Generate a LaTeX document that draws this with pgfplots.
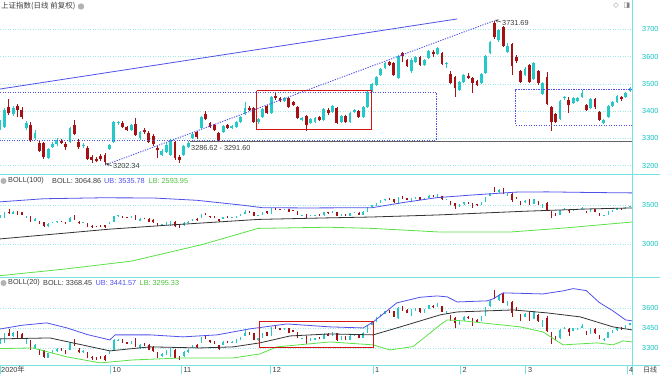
\documentclass[border=0pt]{standalone}
\usepackage{pgfplots}
\pgfplotsset{compat=1.18}
\usepackage{pgfplotstable}
\usepackage{fontspec}
\setmainfont{Liberation Sans}
\newfontfamily\cjk{Noto Sans CJK SC}
\newfontfamily\dejavu{DejaVu Sans}
\definecolor{upc}{RGB}{38,200,200}
\definecolor{dnc}{RGB}{165,18,22}
\definecolor{axc}{RGB}{120,225,225}
\definecolor{labc}{RGB}{20,195,195}
\definecolor{gridc}{RGB}{160,232,232}
\definecolor{blu}{RGB}{80,80,235}
\definecolor{grn}{RGB}{90,225,70}
\definecolor{txt}{RGB}{60,60,60}
\definecolor{rbox}{RGB}{215,20,20}
\definecolor{hline}{RGB}{100,100,100}
\newcommand\fs{\fontsize{7.3}{8.5}\selectfont}

\pgfplotstableread{
i o h l c
0 3338 3367 3331 3360
1 3342 3411 3338 3404
2 3415 3445 3386 3393
3 3389 3419 3382 3411
4 3419 3426 3378 3404
5 3404 3415 3371 3378
6 3338 3364 3331 3356
7 3349 3360 3287 3294
8 3301 3331 3294 3320
9 3283 3290 3250 3254
10 3283 3287 3224 3232
11 3228 3265 3224 3261
12 3268 3287 3265 3279
13 3279 3301 3272 3294
14 3290 3298 3279 3283
15 3279 3287 3257 3268
16 3287 3342 3283 3338
17 3349 3367 3312 3316
18 3287 3298 3261 3268
19 3272 3283 3265 3276
20 3265 3272 3221 3224
21 3232 3239 3210 3221
22 3224 3232 3213 3217
23 3235 3243 3217 3224
24 3239 3246 3202.34 3213
25 3261 3279 3257 3276
26 3287 3364 3283 3360
27 3356 3364 3349 3360
28 3356 3364 3338 3342
29 3342 3345 3327 3331
30 3331 3353 3327 3349
31 3353 3375 3309 3312
32 3301 3327 3294 3323
33 3331 3338 3316 3323
34 3320 3327 3283 3287
35 3309 3316 3272 3279
36 3265 3272 3228 3257
37 3239 3261 3235 3254
38 3250 3283 3246 3276
39 3239 3298 3235 3294
40 3287 3290 3221 3228
41 3232 3239 3210 3221
42 3239 3276 3235 3272
43 3268 3290 3265 3283
44 3301 3320 3298 3316
45 3323 3327 3298 3305
46 3338 3382 3334 3378
47 3389 3400 3367 3371
48 3356 3360 3338 3342
49 3349 3353 3327 3331
50 3320 3323 3287 3294
51 3323 3349 3320 3345
52 3349 3353 3334 3338
53 3338 3349 3334 3345
54 3342 3364 3338 3360
55 3360 3382 3356 3378
56 3389 3433 3386 3411
57 3411 3419 3400 3404
58 3411 3415 3356 3360
59 3360 3375 3353 3371
60 3378 3411 3375 3408
61 3419 3422 3389 3393
62 3393 3455 3389 3452
63 3455 3466 3441 3448
64 3448 3452 3433 3437
65 3437 3452 3433 3448
66 3448 3452 3411 3415
67 3433 3437 3419 3422
68 3415 3419 3371 3375
69 3367 3378 3364 3375
70 3382 3386 3327 3349
71 3356 3375 3353 3371
72 3360 3378 3356 3375
73 3378 3382 3364 3367
74 3367 3411 3364 3408
75 3404 3411 3386 3393
76 3397 3422 3393 3419
77 3411 3415 3353 3356
78 3360 3386 3356 3382
79 3382 3386 3356 3360
80 3360 3397 3356 3393
81 3397 3408 3393 3404
82 3400 3404 3375 3378
83 3378 3419 3375 3415
84 3415 3474 3411 3470
85 3474 3503 3470 3500
86 3496 3529 3492 3525
87 3532 3558 3529 3555
88 3558 3580 3555 3576
89 3580 3584 3565 3569
90 3576 3580 3529 3532
91 3521 3606 3518 3602
92 3613 3617 3580 3602
93 3588 3591 3562 3565
94 3547 3595 3540 3588
95 3580 3602 3576 3598
96 3598 3602 3565 3569
97 3569 3591 3565 3588
98 3595 3624 3591 3620
99 3617 3624 3598 3609
100 3609 3635 3606 3631
101 3613 3617 3569 3573
102 3573 3580 3558 3576
103 3536 3547 3500 3503
104 3525 3529 3452 3485
105 3478 3510 3474 3507
106 3507 3536 3503 3532
107 3529 3540 3518 3521
108 3521 3525 3466 3503
109 3510 3514 3492 3496
110 3503 3540 3500 3536
111 3540 3606 3536 3602
112 3613 3657 3609 3653
113 3723 3731.69 3665 3672
114 3661 3701 3653 3697
115 3708 3712 3635 3639
116 3617 3650 3613 3639
117 3646 3650 3532 3565
118 3598 3606 3576 3584
119 3547 3551 3503 3507
120 3532 3562 3529 3555
121 3569 3573 3503 3507
122 3518 3580 3514 3576
123 3547 3551 3496 3503
124 3463 3507 3459 3503
125 3525 3543 3422 3426
126 3415 3419 3327 3360
127 3389 3393 3356 3360
128 3371 3441 3367 3437
129 3448 3455 3441 3452
130 3441 3452 3393 3422
131 3430 3452 3426 3448
132 3437 3452 3433 3448
133 3452 3478 3448 3466
134 3422 3426 3400 3404
135 3411 3448 3408 3445
136 3445 3448 3408 3415
137 3397 3400 3364 3367
138 3356 3371 3353 3367
139 3378 3422 3375 3419
140 3419 3437 3415 3433
141 3433 3459 3430 3455
142 3452 3455 3437 3445
143 3452 3470 3448 3466
144 3474 3489 3470 3485
}\cdata

\pgfplotstableread{
i v
0 3540
10 3580
23 3592
35 3590
45 3560
55 3500
60 3465
70 3462
85 3465
92 3530
100 3595
108 3628
118 3665
125 3668
135 3660
144.5 3655
}\ubA
\pgfplotstableread{
i v
0 3065
25 3190
38 3240
59 3315
75 3335
85 3346
100 3372
120 3420
135 3450
144.5 3462
}\mbA
\pgfplotstableread{
i v
0 2594
15 2680
30 2780
46 2990
59 3200
75 3215
85 3200
100 3155
117 3155
129 3205
144.5 3282
}\lbA

\pgfplotstableread{
i v
0 3442
5 3470
10.7 3488
15.3 3450
20 3400
25.1 3360
26.3 3398
34.3 3398
41.8 3383
49.6 3398
57.1 3443
65.6 3480
75.4 3458
83 3450
85.3 3495
90.7 3638
96 3680
99.9 3690
102.2 3683
104.5 3645
111.3 3653
112.7 3668
115 3713
124.1 3705
128.7 3728
131 3745
134 3730
137 3640
140 3580
143 3510
144.5 3503
}\ubB
\pgfplotstableread{
i v
0 3368
11.4 3375
25.1 3278
34.3 3308
45.7 3300
53.3 3308
59.4 3338
66.3 3390
75.4 3405
85.3 3398
90.7 3450
100.6 3548
104.5 3570
117.3 3585
125 3563
132.6 3533
140.1 3458
144.5 3435
}\mbB
\pgfplotstableread{
i v
0 3295
7.5 3300
15.3 3233
22.9 3188
30.4 3210
41.8 3225
53.3 3225
59.4 3255
63.3 3308
75.4 3345
85.3 3323
89.1 3285
94.4 3310
100.6 3473
102.2 3510
105.8 3503
118.9 3458
124.1 3420
128.7 3323
136.5 3338
140.1 3323
142.4 3353
144.5 3345
}\lbB

\pgfplotstableread{
i v
59.2 3495
85.4 3495
85.4 3307
59.2 3307
59.2 3495
}\rectB

\newcommand\candleplots[3]{%
 \addplot[mark=none, draw=none, forget plot,
   restrict expr to domain={\thisrow{c}-\thisrow{o}}{0:9999},
   error bars/.cd, y dir=plus, y explicit, error mark=none,
   error bar style={draw=upc, line width=#1}]
   table[x=i, y=l, y error expr={\thisrow{h}-\thisrow{l}}]{\cdata};
 \addplot[mark=none, draw=none, forget plot,
   restrict expr to domain={\thisrow{o}-\thisrow{c}}{0.01:9999},
   error bars/.cd, y dir=plus, y explicit, error mark=none,
   error bar style={draw=dnc, line width=#1}]
   table[x=i, y=l, y error expr={\thisrow{h}-\thisrow{l}}]{\cdata};
 \addplot[mark=none, draw=none, forget plot,
   restrict expr to domain={\thisrow{c}-\thisrow{o}}{0:9999},
   error bars/.cd, y dir=plus, y explicit, error mark=none,
   error bar style={draw=upc, line width=#2}]
   table[x=i, y=o, y error expr={max(\thisrow{c}-\thisrow{o},#3)}]{\cdata};
 \addplot[mark=none, draw=none, forget plot,
   restrict expr to domain={\thisrow{o}-\thisrow{c}}{0.01:9999},
   error bars/.cd, y dir=plus, y explicit, error mark=none,
   error bar style={draw=dnc, line width=#2}]
   table[x=i, y=c, y error expr={max(\thisrow{o}-\thisrow{c},#3)}]{\cdata};
}

\pgfplotsset{
  panel/.style={scale only axis, width=632pt, xmin=0, xmax=144.45,
    axis line style={draw=none}, xtick=\empty,
    ytick pos=right, yticklabel pos=right,
    ymajorgrids, major grid style={gridc, dash pattern=on 1pt off 1.5pt},
    ytick style={draw=none},
    yticklabel style={labc, font=\fs, anchor=west, inner sep=0pt, xshift=10pt},
    /pgf/number format/1000 sep={},
    /pgf/number format/assume math mode=true},
}

\begin{document}
\begin{tikzpicture}
\useasboundingbox (0,0) rectangle (660pt,-375pt);
% top panel
\begin{axis}[panel, at={(0,0)}, anchor=north west, height=174pt,
  ymin=3169.5, ymax=3807.4, ytick={3200,3300,...,3700}]
\candleplots{0.7pt}{2.8pt}{3}
\addplot[blu, line width=0.8pt, forget plot] coordinates {(0,3481) (104.5,3738)};
\addplot[blu, line width=0.9pt, dash pattern=on 1.2pt off 1.3pt, forget plot] coordinates {(24,3202.34) (113,3731.69)};
\addplot[blu, line width=0.9pt, dash pattern=on 1.2pt off 1.3pt, forget plot] coordinates {(0,3470) (99.7,3470) (99.7,3294) (0,3294)};
\addplot[hline, line width=0.9pt, forget plot] coordinates {(43.4,3289) (144.45,3289)};
\addplot[draw=rbox, color=rbox, line width=0.9pt, forget plot] coordinates {(58.7,3474) (85,3474) (85,3331) (58.7,3331) (58.7,3474)};
\addplot[blu, line width=0.9pt, dash pattern=on 1.2pt off 1.3pt, forget plot] coordinates {(144.45,3481) (117.9,3481) (117.9,3349) (144.45,3349)};
\end{axis}
% middle panel
\begin{axis}[panel, at={(0,-174pt)}, anchor=north west, height=103pt,
  ymin=2577, ymax=3897, ytick={3000,3500}]
\candleplots{0.5pt}{1.3pt}{10}
\addplot[blu, line width=0.8pt, forget plot] table[x=i,y=v]{\ubA};
\addplot[black!80, line width=0.8pt, forget plot] table[x=i,y=v]{\mbA};
\addplot[grn, line width=0.8pt, forget plot] table[x=i,y=v]{\lbA};
\end{axis}
% bottom panel
\begin{axis}[panel, at={(0,-277pt)}, anchor=north west, height=88pt,
  ymin=3172, ymax=3832, ytick={3300,3450,3600},
  xtick={0,25.1,41.4,61.7,85.3,105.1,120,143.3}, xticklabels={},
  xtick pos=left, xtick align=outside, major tick length=9pt,
  xtick style={axc, line width=0.6pt}]
\candleplots{0.5pt}{1.5pt}{6}
\addplot[blu, line width=0.8pt, forget plot] table[x=i,y=v]{\ubB};
\addplot[black!80, line width=0.8pt, forget plot] table[x=i,y=v]{\mbB};
\addplot[grn, line width=0.8pt, forget plot] table[x=i,y=v]{\lbB};
\addplot[draw=rbox, line width=1pt, forget plot] table[x=i,y=v]{\rectB};
\end{axis}
% frame lines
\draw[axc, line width=0.6pt] (0,-174pt) -- (660pt,-174pt);
\draw[axc, line width=0.6pt] (0,-277pt) -- (660pt,-277pt);
\draw[axc, line width=0.6pt] (0,-365pt) -- (660pt,-365pt);
\draw[axc, line width=0.6pt] (632pt,0) -- (632pt,-375pt);
% title and headers
\node[anchor=west, inner sep=0pt, text=txt] at (1pt,-6pt) {\cjk\fontsize{7.5}{9}\selectfont 上证指数(日线 前复权)};
\fill[gray!60] (81pt,-6.5pt) circle (3.2pt);
\node[anchor=center, inner sep=0pt, text=gray] at (616pt,-6pt) {\dejavu\fontsize{7}{8}\selectfont ◇};
\node[anchor=center, inner sep=0pt, text=gray] at (627pt,-6pt) {\dejavu\fontsize{7}{8}\selectfont ◨};
\fill[gray!60] (3.5pt,-181pt) circle (3pt);
\node[anchor=west, inner sep=0pt, text=txt] at (8pt,-181pt) {\fs BOLL(100)};
\node[anchor=west, inner sep=0pt, text=txt] at (52pt,-181pt) {\fs BOLL: 3064.86};
\node[anchor=west, inner sep=0pt, text=blu] at (104pt,-181pt) {\fs UB: 3535.78};
\node[anchor=west, inner sep=0pt, text=grn!85!black] at (148.5pt,-181pt) {\fs LB: 2593.95};
\fill[gray!60] (3.5pt,-283pt) circle (3pt);
\node[anchor=west, inner sep=0pt, text=txt] at (8pt,-283pt) {\fs BOLL(20)};
\node[anchor=west, inner sep=0pt, text=txt] at (43pt,-283pt) {\fs BOLL: 3368.45};
\node[anchor=west, inner sep=0pt, text=blu] at (95.5pt,-283pt) {\fs UB: 3441.57};
\node[anchor=west, inner sep=0pt, text=grn!85!black] at (139.5pt,-283pt) {\fs LB: 3295.33};
% annotations
\node[anchor=west, inner sep=0pt, text=txt] at (113pt,-166pt) {\fs 3202.34};
\draw[txt, line width=0.5pt, ->, >=stealth] (112pt,-166pt) -- (106pt,-163.5pt);
\node[anchor=west, inner sep=0pt, text=txt] at (191pt,-147.5pt) {\fs 3286.62 - 3291.60};
\node[anchor=west, inner sep=0pt, text=txt] at (502pt,-23pt) {\fs 3731.69};
\draw[txt, line width=0.5pt, ->, >=stealth] (501pt,-22pt) -- (495pt,-20pt);
% x labels
\node[anchor=west, inner sep=0pt, text=txt] at (1pt,-370pt) {\fs 2020\cjk 年};
\node[anchor=west, inner sep=0pt, text=txt] at (112.5pt,-370pt) {\fs 10};
\node[anchor=west, inner sep=0pt, text=txt] at (183.5pt,-370pt) {\fs 11};
\node[anchor=west, inner sep=0pt, text=txt] at (272.5pt,-370pt) {\fs 12};
\node[anchor=west, inner sep=0pt, text=txt] at (375pt,-370pt) {\fs 1};
\node[anchor=west, inner sep=0pt, text=txt] at (462.5pt,-370pt) {\fs 2};
\node[anchor=west, inner sep=0pt, text=txt] at (528pt,-370pt) {\fs 3};
\node[anchor=west, inner sep=0pt, text=txt] at (629pt,-370pt) {\fs 4};
\node[anchor=west, inner sep=0pt, text=txt] at (643pt,-370pt) {\cjk\fontsize{7}{8}\selectfont 日线};
\end{tikzpicture}
\end{document}
